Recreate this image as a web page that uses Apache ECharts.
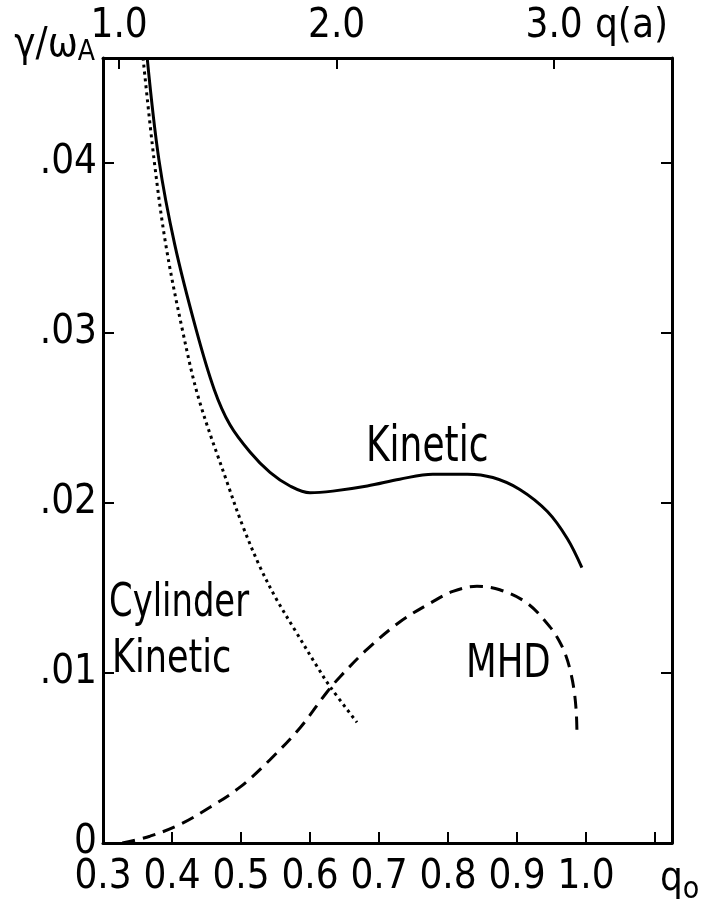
<!DOCTYPE html>
<html>
<head>
<meta charset="utf-8">
<script src="https://cdn.jsdelivr.net/npm/echarts@6/dist/echarts.min.js"></script>
<style>html,body{margin:0;padding:0;background:#fff}#c{width:719px;height:903px}</style>
</head>
<body>
<div id="c"></div>
<script>
// ---- data ----
const kineticQ0 = [0.364, 0.381, 0.404, 0.435, 0.461, 0.484, 0.513, 0.542, 0.571, 0.600, 0.633, 0.683, 0.730, 0.778, 0.828, 0.865, 0.904, 0.944, 0.973, 0.994];
const kineticGamma = [0.0462, 0.0402, 0.0352, 0.0302, 0.0267, 0.0246, 0.0230, 0.0218, 0.0210, 0.0206, 0.0207, 0.0210, 0.0214, 0.0217, 0.0217, 0.0215, 0.0208, 0.0195, 0.0179, 0.0162];

const cylQ0 = [0.358, 0.374, 0.391, 0.415, 0.439, 0.480, 0.503, 0.528, 0.552, 0.580, 0.610, 0.629, 0.668];
const cylGamma = [0.0462, 0.0402, 0.0352, 0.0302, 0.0261, 0.0212, 0.0186, 0.0162, 0.0143, 0.0124, 0.0104, 0.0092, 0.0071];

const mhdQ0 = [0.328, 0.368, 0.412, 0.455, 0.499, 0.542, 0.586, 0.625, 0.644, 0.683, 0.730, 0.778, 0.807, 0.842, 0.875, 0.915, 0.948, 0.961, 0.971, 0.978, 0.983, 0.986, 0.987];
const mhdGamma = [0.0, 0.0004, 0.0011, 0.0021, 0.0033, 0.0049, 0.0068, 0.0089, 0.0098, 0.0114, 0.0130, 0.0142, 0.0148, 0.0151, 0.0149, 0.0141, 0.0127, 0.0119, 0.0110, 0.0100, 0.0089, 0.0076, 0.0062];

const q0TickValues = [0.4, 0.5, 0.6, 0.7, 0.8, 0.9, 1.0, 1.1];
const q0LabelValues = [0.3, 0.4, 0.5, 0.6, 0.7, 0.8, 0.9, 1.0];
const qaTickValues = [1.0, 2.0, 3.0];
const gammaTickValues = [0.01, 0.02, 0.03, 0.04];
const gammaLabelValues = [0, 0.01, 0.02, 0.03, 0.04];
const q0Range = [0.3, 1.1246];
const qaRange = [0.926, 3.542];
const gammaRange = [0, 0.04618];

// ---- chart ----
const FONT = "'Liberation Sans Narrow', 'DejaVu Sans Condensed', 'Liberation Sans', sans-serif";
const zip = (a, b) => a.map((v, i) => [v, b[i]]);
const chart = echarts.init(document.getElementById('c'), null, {renderer: 'canvas'});
const axisLine = {show: true, onZero: false, lineStyle: {color: '#000', width: 3}};
const tickStyle = {color: '#000', width: 2};

function curveLabel(text, x, y, size, sx) {
  return {type: 'text', x: x, y: y, scaleX: sx,
    style: {text: text, fontFamily: FONT, fontSize: size, fill: '#000', textVerticalAlign: 'middle'}};
}

chart.setOption({
  backgroundColor: '#fff',
  animation: false,
  grid: {left: 103, right: 47, top: 58, bottom: 60, containLabel: false, outerBoundsMode: 'none'},
  xAxis: [{
    type: 'value', position: 'bottom', min: q0Range[0], max: q0Range[1],
    axisLine: axisLine, splitLine: {show: false},
    axisTick: {show: true, inside: true, length: 11, lineStyle: tickStyle, customValues: q0TickValues},
    axisLabel: {show: true, customValues: q0LabelValues, margin: 15, color: '#000', fontFamily: FONT, fontSize: 40,
      formatter: v => v.toFixed(1)},
    name: '{q|q}{o|o}', nameLocation: 'end', nameGap: -12, nameMoveOverlap: false,
    nameTextStyle: {align: 'left', verticalAlign: 'top', padding: [12, 0, 0, 0],
      rich: {q: {fontFamily: FONT, fontSize: 40, color: '#000'}, o: {fontFamily: FONT, fontSize: 30, color: '#000', verticalAlign: 'bottom', padding: [20, 0, 0, 0]}}}
  }, {
    type: 'value', position: 'top', min: qaRange[0], max: qaRange[1],
    axisLine: axisLine, splitLine: {show: false},
    axisTick: {show: true, inside: true, length: 11, lineStyle: tickStyle, customValues: qaTickValues},
    axisLabel: {show: true, customValues: qaTickValues, margin: 11, color: '#000', fontFamily: FONT, fontSize: 40,
      formatter: v => v.toFixed(1)},
    name: 'q(a)', nameLocation: 'end', nameGap: -4, nameMoveOverlap: false,
    nameTextStyle: {align: 'right', verticalAlign: 'bottom', padding: [0, 0, 11, 0], fontFamily: FONT, fontSize: 40, color: '#000'}
  }],
  yAxis: [{
    type: 'value', position: 'left', min: gammaRange[0], max: gammaRange[1],
    axisLine: axisLine, splitLine: {show: false},
    axisTick: {show: true, inside: true, length: 11, lineStyle: tickStyle, customValues: gammaTickValues},
    axisLabel: {show: true, customValues: gammaLabelValues, margin: 6, color: '#000', fontFamily: FONT, fontSize: 40,
      formatter: v => v === 0 ? '0' : '.' + String(Math.round(v * 100)).padStart(2, '0')},
    name: '{g|γ/ω}{a|A}', nameLocation: 'end', nameGap: 12, nameMoveOverlap: false,
    nameTextStyle: {align: 'right', verticalAlign: 'middle', padding: [0, 8, 0, 0],
      rich: {g: {fontFamily: FONT, fontSize: 40, color: '#000'}, a: {fontFamily: FONT, fontSize: 28, color: '#000', verticalAlign: 'bottom', padding: [14, 0, 0, 0]}}}
  }, {
    type: 'value', position: 'right', min: gammaRange[0], max: gammaRange[1],
    axisLine: axisLine, splitLine: {show: false},
    axisTick: {show: true, inside: true, length: 11, lineStyle: tickStyle, customValues: gammaTickValues},
    axisLabel: {show: false}
  }],
  series: [{
    name: 'Kinetic', type: 'line', xAxisIndex: 0, yAxisIndex: 0, data: zip(kineticQ0, kineticGamma),
    smooth: 0.35, showSymbol: false, lineStyle: {color: '#000', width: 3}
  }, {
    name: 'Cylinder Kinetic', type: 'line', xAxisIndex: 0, yAxisIndex: 0, data: zip(cylQ0, cylGamma),
    smooth: 0.35, showSymbol: false, lineStyle: {color: '#000', width: 3, type: [3, 4]}
  }, {
    name: 'MHD', type: 'line', xAxisIndex: 0, yAxisIndex: 0, data: zip(mhdQ0, mhdGamma),
    smooth: 0.35, showSymbol: false, lineStyle: {color: '#000', width: 3, type: [13, 8]}
  }],
  graphic: [
    curveLabel('Kinetic', 366, 448, 50, 0.8),
    curveLabel('Cylinder', 109, 604, 47, 0.8),
    curveLabel('Kinetic', 112, 660, 47, 0.83),
    curveLabel('MHD', 466, 665, 47, 0.84)
  ]
});
</script>
</body>
</html>
